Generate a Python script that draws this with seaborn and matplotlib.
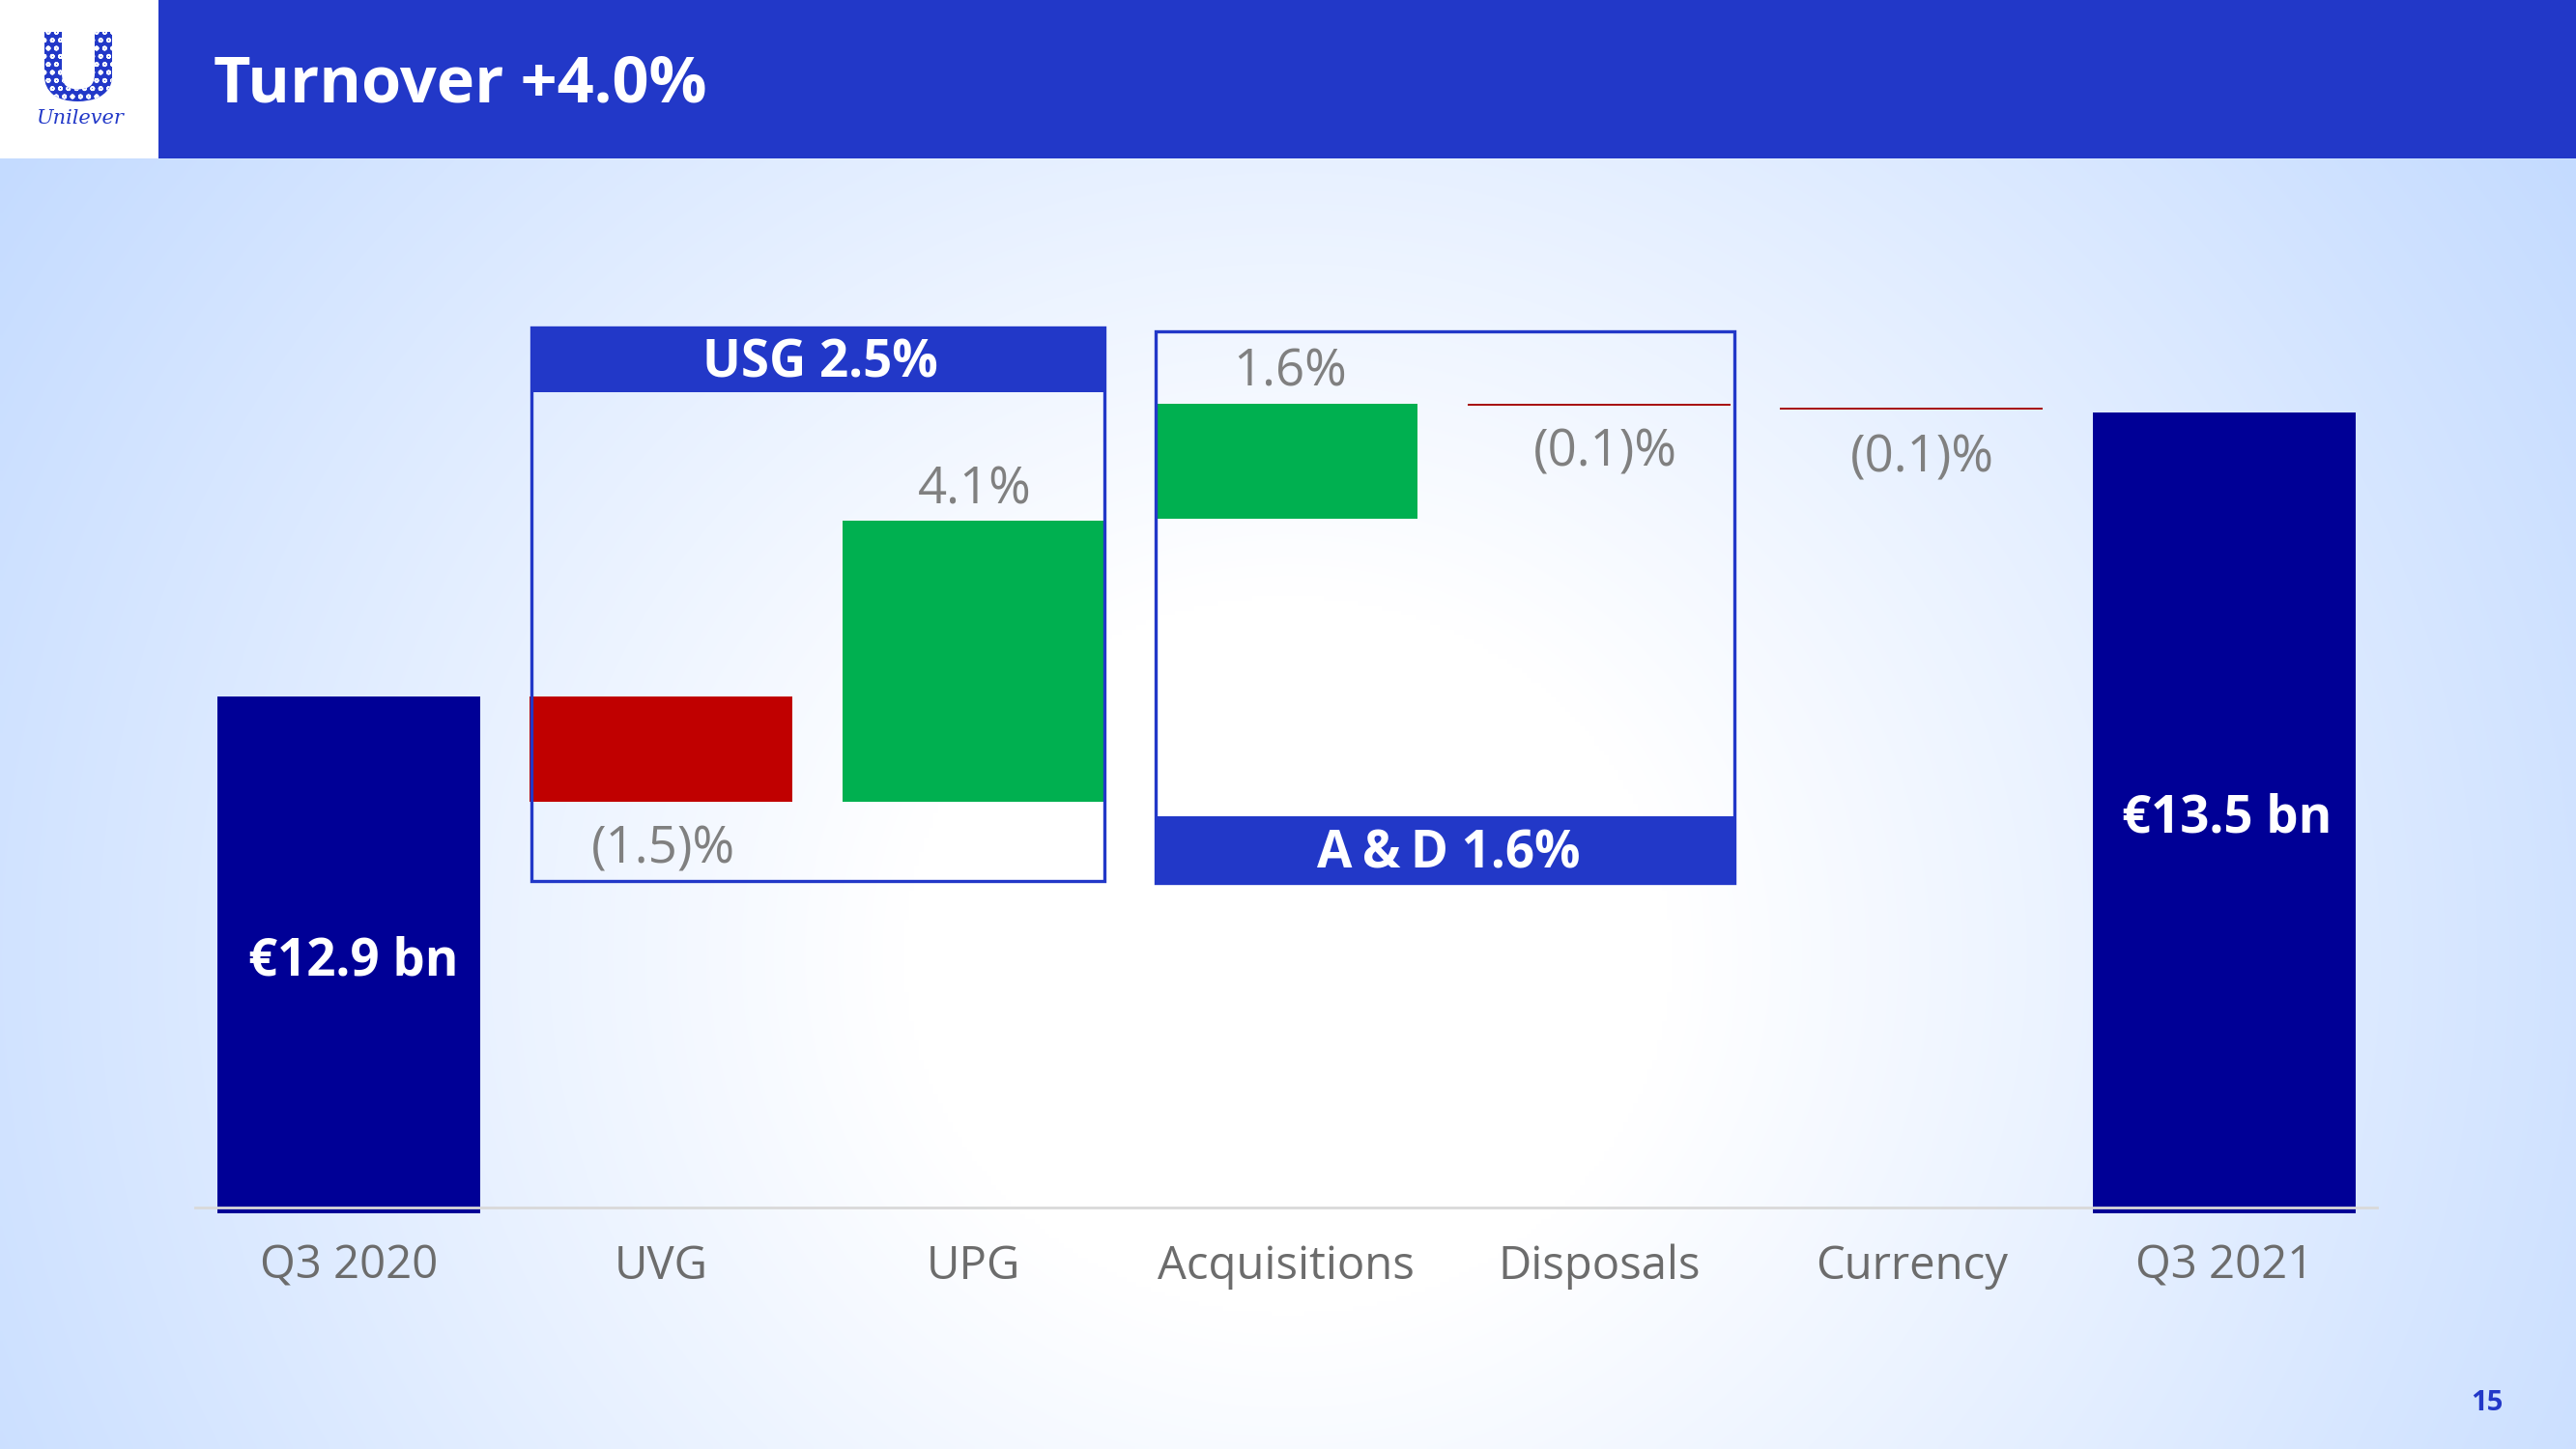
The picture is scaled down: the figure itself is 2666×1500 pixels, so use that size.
import numpy as np
import matplotlib
matplotlib.use("Agg")
import matplotlib.pyplot as plt
from matplotlib.patches import Rectangle, PathPatch
from matplotlib.textpath import TextPath
from matplotlib.font_manager import FontProperties
from matplotlib.transforms import Affine2D
import seaborn as sns

W, H = 2666, 1500
S = W / 1568  # reference was measured on the 1568 wide view

# chart values (axis is truncated, units = view pixels above the baseline)
categories = ["Q3 2020", "UVG", "UPG", "Acquisitions", "Disposals", "Currency", "Q3 2021"]
bar_tops = [311, 311, 418, 489, 489, 486.8, 484]
bar_bottoms = [-3.5, 247, 247, 419, 487.8, 485.6, -3.5]
bar_colors = ["#000096", "#c00000", "#00b050", "#00b050", "#a81010", "#a81010", "#000096"]
value_labels = ["", "(1.5)%", "4.1%", "1.6%", "(0.1)%", "(0.1)%", ""]
total_labels = ["€12.9 bn", "", "", "", "", "", "€13.5 bn"]
title = "Turnover +4.0%"
usg_label = "USG 2.5%"
ad_label = "A\u2009&\u2009D 1.6%"
page_number = "15"

BLUE = "#2238c8"
GREY = "#808080"

sns.set_theme(style="white")
plt.rcParams["font.family"] = ["Open Sans", "Noto Sans", "DejaVu Sans"]

fig = plt.figure(figsize=(W / 100, H / 100), dpi=100)


def fx(x):
    return x * S / W


def fy(y):
    return 1 - y * S / H


def label(x, y, s, **kw):
    fig.text(fx(x), fy(y), s, ha="center", va="center", **kw)


# background glow
bg = fig.add_axes([0, 0, 1, 1], zorder=0)
yy, xx = np.mgrid[0:1:300j, 0:1:534j]
r = np.sqrt(((xx - 0.5) / 0.60) ** 2 + ((yy - 0.66) / 1.0) ** 2)
r = np.clip((r - 0.25) / 0.75, 0, 1)
edge = np.array([0xc4, 0xdb, 0xff]) / 255
glow = 1 + (edge - 1) * r[..., None]
bg.imshow(glow, aspect="auto", extent=[0, 1, 0, 1], origin="upper", interpolation="bilinear")
bg.axis("off")

# header
fig.add_artist(Rectangle((0, fy(96.5)), 1, 1 - fy(96.5), transform=fig.transFigure, color=BLUE, lw=0, zorder=1))
fig.add_artist(Rectangle((0, fy(96.5)), fx(96.5), 1 - fy(96.5), transform=fig.transFigure, color="white", lw=0, zorder=2))
fig.text(fx(130), fy(52), title, color="white", fontsize=48, fontweight="bold", ha="left", va="center", zorder=3)

# logo
plt.rcParams["hatch.linewidth"] = 1.2
tp = TextPath((0, 0), "U", size=100, prop=FontProperties(family="Open Sans", weight="bold"))
ext = tp.get_extents()
sx, sy = 70 / ext.width, 72 / ext.height
logo_tf = Affine2D().translate(-ext.x0, -ext.y0).scale(sx, sy).translate(46, H - 105)
logo = PathPatch(tp, transform=logo_tf, facecolor=BLUE, edgecolor="white", hatch="oo", lw=0, zorder=3)
fig.add_artist(logo)
fig.text(fx(48.5), fy(72), "Unilever", color=BLUE, fontsize=15, style="italic", family="DejaVu Serif",
         ha="center", va="center", zorder=3)

# waterfall
ax = fig.add_axes([fx(117), fy(735), fx(1449) - fx(117), fy(97) - fy(735)], zorder=4)
ax.patch.set_alpha(0)
heights = np.array(bar_tops) - np.array(bar_bottoms)
sns.barplot(x=categories, y=heights, bottom=bar_bottoms, width=0.84, ax=ax, legend=False,
            color=bar_colors[0], linewidth=0, saturation=1)
for bar, col in zip(ax.patches, bar_colors):
    bar.set_facecolor(col)
    bar.set_clip_on(False)
ax.set_xlim(-0.5, 6.5)
ax.set_ylim(0, 638)
ax.set_yticks([])
sns.despine(ax=ax, left=True)
ax.spines["bottom"].set_color("#d9d9d9")
ax.spines["bottom"].set_linewidth(2)
ax.spines["bottom"].set_zorder(5)
ax.spines["bottom"].set_bounds(-0.49, 6.49)
ax.tick_params(axis="x", length=0, pad=27, labelsize=34, labelcolor="#6c6c6c")

# boxes around the growth steps
for x0, x1, y0, y1 in [(323.5, 672.5, 199.5, 536.5), (703.5, 1055.5, 202, 537.5)]:
    fig.add_artist(Rectangle((fx(x0), fy(y1)), fx(x1) - fx(x0), fy(y0) - fy(y1), transform=fig.transFigure,
                             fill=False, edgecolor=BLUE, lw=2.4, zorder=6))
for x0, x1, y0, y1 in [(323, 673, 199, 239), (703, 1056, 497, 538)]:
    fig.add_artist(Rectangle((fx(x0), fy(y1)), fx(x1) - fx(x0), fy(y0) - fy(y1), transform=fig.transFigure,
                             color=BLUE, lw=0, zorder=6))

label(499.5, 221.5, usg_label, color="white", fontsize=38, fontweight="bold", zorder=7)
label(882, 520.5, ad_label, color="white", fontsize=38, fontweight="bold", zorder=7)

# value labels
value_pos = [None, (404, 517.5), (593, 298.5), (785.5, 227), (977, 275.5), (1170, 279.5), None]
for s, pos in zip(value_labels, value_pos):
    if s:
        label(pos[0], pos[1], s, color=GREY, fontsize=38, zorder=7)
total_pos = [(215, 585.5), None, None, None, None, None, (1355.5, 498.5)]
for s, pos in zip(total_labels, total_pos):
    if s:
        label(pos[0], pos[1], s, color="white", fontsize=38, fontweight="bold", zorder=7)

label(1514, 854.5, page_number, color=BLUE, fontsize=21, fontweight="bold", zorder=7)

fig.savefig("out.png", dpi=100)
